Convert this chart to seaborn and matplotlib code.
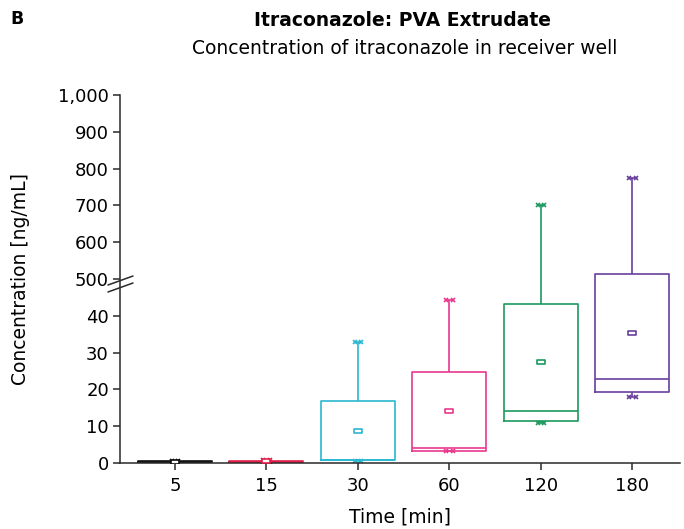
import numpy as np
import pandas as pd
import matplotlib
matplotlib.use("Agg")
import matplotlib.pyplot as plt
from matplotlib.lines import Line2D
from matplotlib.path import Path
import seaborn as sns

# ---- data ----
times = ["5", "15", "30", "60", "120", "180"]
mins = [0.1, 0.2, 0.6, 3.2, 10.9, 18.0]
q1s = [0.15, 0.3, 0.7, 3.2, 11.4, 19.2]
medians = [0.3, 0.4, 0.8, 4.0, 14.0, 22.9]
q3s = [0.45, 0.6, 16.8, 24.6, 43.1, 514.0]
maxs = [0.5, 0.9, 32.8, 44.4, 702.0, 774.0]
means = [0.3, 0.5, 8.7, 14.0, 27.4, 35.2]
colors = ["#111111", "#e0204a", "#2bb7d1", "#e8398f", "#1d9a5e", "#6a3f9c"]

ytick_vals = [0, 10, 20, 30, 40, 500, 600, 700, 800, 900, 1000]
ytick_labels = ["0", "10", "20", "30", "40", "500", "600", "700", "800", "900", "1,000"]

# five-number summaries as data so the box statistics match exactly
rows = []
for t, a, b, c, d, e in zip(times, mins, q1s, medians, q3s, maxs):
    for v in (a, b, c, d, e):
        rows.append({"Time": t, "Conc": v})
df = pd.DataFrame(rows)
df_mean = pd.DataFrame({"Time": times, "Conc": means})

sns.set_style("ticks")
plt.rcParams["font.family"] = ["DejaVu Sans"]
plt.rcParams["text.color"] = "black"
plt.rcParams["axes.labelcolor"] = "black"

fig = plt.figure(figsize=(6.84, 5.29), dpi=100)
W, H = 684, 529
ax = fig.add_axes([120 / W, 1 - 463 / H, 560 / W, (463 - 95) / H])

pal = dict(zip(times, colors))
sns.boxplot(data=df, x="Time", y="Conc", hue="Time", order=times, hue_order=times,
            palette=pal, fill=False, whis=(0, 100), width=0.81, linewidth=1.2,
            legend=False, ax=ax, capwidths=0.07,
            capprops=dict(marker="x", markersize=3.2, markeredgewidth=1.2))

# mean markers: small hollow rectangles
rect = Path([(-1, -0.55), (1, -0.55), (1, 0.55), (-1, 0.55), (-1, -0.55)],
            [Path.MOVETO, Path.LINETO, Path.LINETO, Path.LINETO, Path.CLOSEPOLY])
n_before = len(ax.collections)
sns.stripplot(data=df_mean, x="Time", y="Conc", hue="Time", order=times, hue_order=times,
              palette=pal, jitter=False, marker=rect, size=6, linewidth=1.2,
              legend=False, ax=ax)
for coll in ax.collections[n_before:]:
    fc = coll.get_facecolor()
    coll.set_edgecolor(fc)
    coll.set_facecolor("white")
    coll.set_zorder(5)

# broken axis: 0-50 compressed linearly, 500-1000 linearly above it
def fwd(y):
    y = np.asarray(y, dtype=float)
    return np.where(y <= 50, y / 10.0,
                    np.where(y >= 500, 5.0 + 450e-6 + (y - 500) / 100.0,
                             5.0 + (y - 50) * 1e-6))

def inv(u):
    u = np.asarray(u, dtype=float)
    return np.where(u <= 5.0, u * 10.0,
                    np.where(u >= 5.0 + 450e-6, 500 + (u - 5.0 - 450e-6) * 100.0,
                             50 + (u - 5.0) * 1e6))

ax.set_yscale("function", functions=(fwd, inv))
ax.set_ylim(0, 1000)
ax.set_xlim(-0.6, 5.52)
ax.set_yticks(ytick_vals)
ax.set_yticklabels(ytick_labels)
ax.set_xticks(range(len(times)))
ax.set_xticklabels(times)

axis_col = "#2a2a2a"
for s in ["top", "right"]:
    ax.spines[s].set_visible(False)
for s in ["left", "bottom"]:
    ax.spines[s].set_color(axis_col)
    ax.spines[s].set_linewidth(1.1)
ax.tick_params(axis="both", direction="out", length=5, width=1.1, color=axis_col,
               labelsize=13, labelcolor="black")
ax.tick_params(axis="y", pad=3)
ax.tick_params(axis="x", pad=5)
ax.set_xlabel("Time [min]", fontsize=13.5, labelpad=9, color="black")
ax.set_ylabel("Concentration [ng/mL]", fontsize=13.5, labelpad=20, color="black")
ax.grid(False)

# break marks on the y axis
def px(x, y):
    return x / W, 1 - y / H
for dy in (0, 7):
    (x0, y0), (x1, y1) = px(108, 285 + dy), px(133, 276 + dy)
    fig.add_artist(Line2D([x0, x1], [y0, y1], color=axis_col, lw=1.1))

fig.text(10 / W, 1 - 19 / H, "B", fontsize=12.5, fontweight="bold", ha="left", va="center")
fig.text(403 / W, 1 - 20 / H, "Itraconazole: PVA Extrudate", fontsize=13.5,
         fontweight="bold", ha="center", va="center")
fig.text(405 / W, 1 - 49 / H, "Concentration of itraconazole in receiver well",
         fontsize=13.5, ha="center", va="center")

fig.savefig("out.png", dpi=100)
